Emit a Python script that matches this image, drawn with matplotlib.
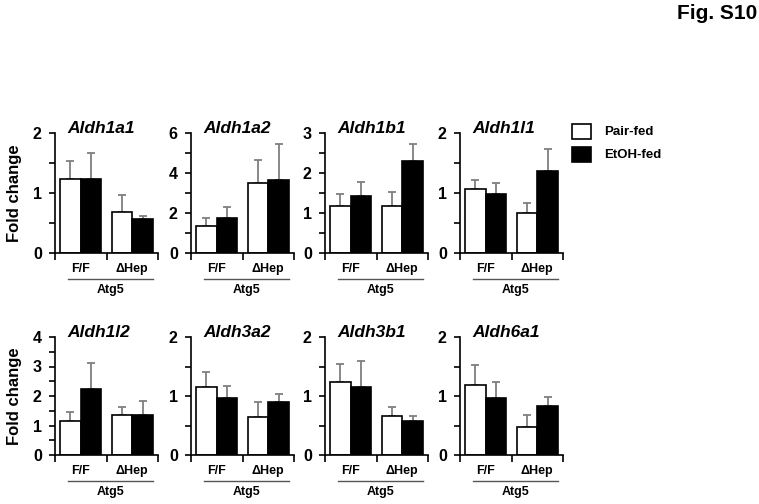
import matplotlib
matplotlib.use("Agg")
import matplotlib.pyplot as plt
import matplotlib.transforms as mtransforms
from matplotlib.lines import Line2D
from matplotlib.patches import Rectangle
from matplotlib.ticker import MultipleLocator

plt.rcParams['font.family'] = ['Liberation Sans', 'DejaVu Sans']

genes = ["Aldh1a1", "Aldh1a2", "Aldh1b1", "Aldh1l1",
         "Aldh1l2", "Aldh3a2", "Aldh3b1", "Aldh6a1"]
groups = ["F/F", "\u0394Hep"]
series = ["Pair-fed", "EtOH-fed"]

# per gene: [F/F, ΔHep]
pair_mean = {
    "Aldh1a1": [1.23, 0.69], "Aldh1a2": [1.33, 3.50], "Aldh1b1": [1.18, 1.17], "Aldh1l1": [1.07, 0.66],
    "Aldh1l2": [1.15, 1.34], "Aldh3a2": [1.15, 0.64], "Aldh3b1": [1.23, 0.66], "Aldh6a1": [1.19, 0.48],
}
pair_err = {
    "Aldh1a1": [0.30, 0.27], "Aldh1a2": [0.42, 1.17], "Aldh1b1": [0.30, 0.35], "Aldh1l1": [0.15, 0.17],
    "Aldh1l2": [0.30, 0.29], "Aldh3a2": [0.25, 0.25], "Aldh3b1": [0.32, 0.16], "Aldh6a1": [0.33, 0.19],
}
etoh_mean = {
    "Aldh1a1": [1.24, 0.57], "Aldh1a2": [1.77, 3.67], "Aldh1b1": [1.42, 2.29], "Aldh1l1": [0.98, 1.36],
    "Aldh1l2": [2.25, 1.37], "Aldh3a2": [0.97, 0.89], "Aldh3b1": [1.16, 0.57], "Aldh6a1": [0.96, 0.83],
}
etoh_err = {
    "Aldh1a1": [0.43, 0.04], "Aldh1a2": [0.51, 1.80], "Aldh1b1": [0.36, 0.44], "Aldh1l1": [0.18, 0.37],
    "Aldh1l2": [0.87, 0.46], "Aldh3a2": [0.20, 0.15], "Aldh3b1": [0.44, 0.09], "Aldh6a1": [0.28, 0.16],
}
ymax = {"Aldh1a1": 2, "Aldh1a2": 6, "Aldh1b1": 3, "Aldh1l1": 2,
        "Aldh1l2": 4, "Aldh3a2": 2, "Aldh3b1": 2, "Aldh6a1": 2}
major = {"Aldh1a1": 1, "Aldh1a2": 2, "Aldh1b1": 1, "Aldh1l1": 1,
         "Aldh1l2": 1, "Aldh3a2": 1, "Aldh3b1": 1, "Aldh6a1": 1}
minor = {"Aldh1a1": 0.5, "Aldh1a2": 1, "Aldh1b1": 0.5, "Aldh1l1": 0.5,
         "Aldh1l2": 0.5, "Aldh3a2": 0.5, "Aldh3b1": 0.5, "Aldh6a1": 0.5}

W, H = 759, 504
fig = plt.figure(figsize=(W / 100, H / 100), dpi=100)

lefts = [55, 191, 325, 460]
rows = [(133, 253), (337, 455)]
axw = 103
err_color = "#7f7f7f"
centers = [1, 3]
bw = 0.8

for i, g in enumerate(genes):
    r, c = divmod(i, 4)
    top, bot = rows[r]
    ax = fig.add_axes([lefts[c] / W, 1 - bot / H, axw / W, (bot - top) / H])
    xs_p = [x - bw / 2 for x in centers]
    xs_e = [x + bw / 2 for x in centers]
    ax.bar(xs_p, pair_mean[g], width=bw, color="white", edgecolor="black", linewidth=1.2, zorder=2)
    ax.bar(xs_e, etoh_mean[g], width=bw, color="black", edgecolor="black", linewidth=1.2, zorder=2)
    ax.errorbar(xs_p, pair_mean[g], yerr=[[0, 0], pair_err[g]], fmt="none", ecolor=err_color,
                elinewidth=1.3, capsize=3, capthick=1.3, zorder=1)
    ax.errorbar(xs_e, etoh_mean[g], yerr=[[0, 0], etoh_err[g]], fmt="none", ecolor=err_color,
                elinewidth=1.3, capsize=3, capthick=1.3, zorder=1)
    ax.set_xlim(0, 4)
    ax.set_ylim(0, ymax[g])
    ax.yaxis.set_major_locator(MultipleLocator(major[g]))
    ax.yaxis.set_minor_locator(MultipleLocator(minor[g]))
    ax.set_xticks([0, 2, 4])
    ax.set_xticklabels([])
    for s in ["top", "right"]:
        ax.spines[s].set_visible(False)
    for s in ["left", "bottom"]:
        ax.spines[s].set_linewidth(1.2)
    ax.tick_params(axis="y", which="both", direction="out", length=4.5, width=1.2,
                   labelsize=11.5, pad=5)
    ax.tick_params(axis="x", direction="out", length=5, width=1.2)
    for lab in ax.get_yticklabels():
        lab.set_fontweight("bold")
    ax.text(12 / axw, 1.0, g, transform=ax.transAxes, ha="left", va="baseline",
            fontsize=12.5, fontweight="bold", fontstyle="italic")
    trans = mtransforms.blended_transform_factory(ax.transData, ax.transAxes)
    for x, lab in zip(centers, groups):
        ax.annotate(lab, xy=(x, 0), xycoords=trans, xytext=(0, -16), textcoords="offset pixels",
                    ha="center", va="center", fontsize=9, fontweight="bold", annotation_clip=False)
    off = mtransforms.offset_copy(trans, fig=fig, x=0, y=-26 / 100 * 72, units="points")
    ax.add_line(Line2D([0.5, 3.8], [0, 0], transform=off, color="#555555", lw=1.0, clip_on=False))
    ax.annotate("Atg5", xy=(2.15, 0), xycoords=trans, xytext=(0, -37), textcoords="offset pixels",
                ha="center", va="center", fontsize=9, fontweight="bold", annotation_clip=False)

# y labels
for top, bot in rows:
    fig.text(15 / W, 1 - (top + bot) / 2 / H, "Fold change", rotation=90, ha="center", va="center",
             fontsize=12, fontweight="bold")

# legend
fig.patches.append(Rectangle((572 / W, 1 - 139 / H), 19 / W, 15 / H, transform=fig.transFigure,
                             facecolor="white", edgecolor="black", lw=1.2))
fig.patches.append(Rectangle((572 / W, 1 - 162 / H), 19 / W, 15 / H, transform=fig.transFigure,
                             facecolor="black", edgecolor="black", lw=1.2))
fig.text(604 / W, 1 - 132 / H, series[0], ha="left", va="center", fontsize=9.5, fontweight="bold")
fig.text(604 / W, 1 - 155 / H, series[1], ha="left", va="center", fontsize=9.5, fontweight="bold")

fig.text(757 / W, 1 - 19 / H, "Fig. S10", ha="right", va="baseline", fontsize=15, fontweight="bold")

fig.savefig("out.png", dpi=100, facecolor="white")
